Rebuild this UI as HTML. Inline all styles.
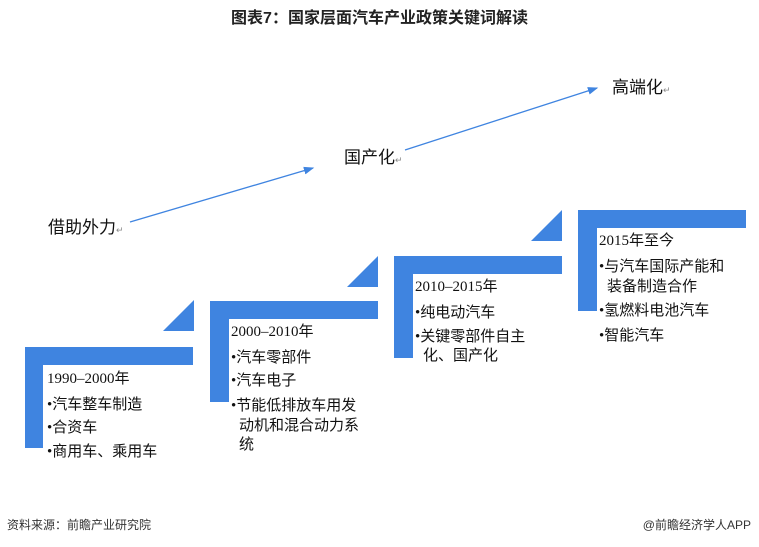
<!DOCTYPE html>
<html><head><meta charset="utf-8"><style>
body{margin:0;width:759px;height:547px;background:#fff;position:relative;overflow:hidden;font-family:"Liberation Serif","Noto Sans CJK SC",serif;color:#111}
.b{position:absolute;background:#3f84e0}
.t{position:absolute;font-size:15px;line-height:20px;white-space:nowrap}
.s{font-family:"Liberation Sans","Noto Sans CJK SC",sans-serif}
</style></head><body>
<div class="t s" style="left:0;width:759px;text-align:center;top:9px;font-size:16px;font-weight:bold;color:#222">图表7：国家层面汽车产业政策关键词解读</div>

<svg style="position:absolute;left:0;top:0" width="759" height="547">
<defs><marker id="a" markerWidth="8" markerHeight="8" refX="7" refY="4" orient="auto"><path d="M0,1 L8,4 L0,7 Z" fill="#3f84e0"/></marker></defs>
<line x1="130" y1="222" x2="313" y2="168" stroke="#3f84e0" stroke-width="1.3" marker-end="url(#a)"/>
<line x1="405" y1="150" x2="597" y2="88" stroke="#3f84e0" stroke-width="1.3" marker-end="url(#a)"/>
<polygon points="163,331 194,331 194,300" fill="#3f84e0"/>
<polygon points="347,287 378,287 378,256" fill="#3f84e0"/>
<polygon points="531,241 562,241 562,210" fill="#3f84e0"/>
</svg>

<div class="t s" style="left:48px;top:218px;font-size:17px">借助外力<span style="font-size:9px;color:#888">↵</span></div>
<div class="t s" style="left:344px;top:148px;font-size:17px">国产化<span style="font-size:9px;color:#888">↵</span></div>
<div class="t s" style="left:612px;top:78px;font-size:17px">高端化<span style="font-size:9px;color:#888">↵</span></div>

<div class="b" style="left:25px;top:347px;width:168px;height:18px"></div>
<div class="b" style="left:25px;top:347px;width:18px;height:101px"></div>
<div class="b" style="left:210px;top:301px;width:168px;height:18px"></div>
<div class="b" style="left:210px;top:301px;width:19px;height:101px"></div>
<div class="b" style="left:394px;top:256px;width:168px;height:18px"></div>
<div class="b" style="left:394px;top:256px;width:19px;height:102px"></div>
<div class="b" style="left:578px;top:210px;width:168px;height:18px"></div>
<div class="b" style="left:578px;top:210px;width:19px;height:101px"></div>

<div class="t" style="left:47px;top:369px">1990–2000年</div>
<div class="t" style="left:47px;top:395px">•汽车整车制造</div>
<div class="t" style="left:47px;top:418px">•合资车</div>
<div class="t" style="left:47px;top:442px">•商用车、乘用车</div>

<div class="t" style="left:231px;top:322px">2000–2010年</div>
<div class="t" style="left:231px;top:348px">•汽车零部件</div>
<div class="t" style="left:231px;top:371px">•汽车电子</div>
<div class="t" style="left:231px;top:396px">•节能低排放车用发</div>
<div class="t" style="left:239px;top:416px">动机和混合动力系</div>
<div class="t" style="left:239px;top:435px">统</div>

<div class="t" style="left:415px;top:277px">2010–2015年</div>
<div class="t" style="left:415px;top:303px">•纯电动汽车</div>
<div class="t" style="left:415px;top:327px">•关键零部件自主</div>
<div class="t" style="left:423px;top:346px">化、国产化</div>

<div class="t" style="left:599px;top:231px">2015年至今</div>
<div class="t" style="left:599px;top:257px">•与汽车国际产能和</div>
<div class="t" style="left:607px;top:277px">装备制造合作</div>
<div class="t" style="left:599px;top:301px">•氢燃料电池汽车</div>
<div class="t" style="left:599px;top:326px">•智能汽车</div>

<div class="t s" style="left:7px;top:515px;font-size:12px;color:#333">资料来源：前瞻产业研究院</div>
<div class="t s" style="right:8px;top:515px;font-size:12px;color:#333">@前瞻经济学人APP</div>
</body></html>
